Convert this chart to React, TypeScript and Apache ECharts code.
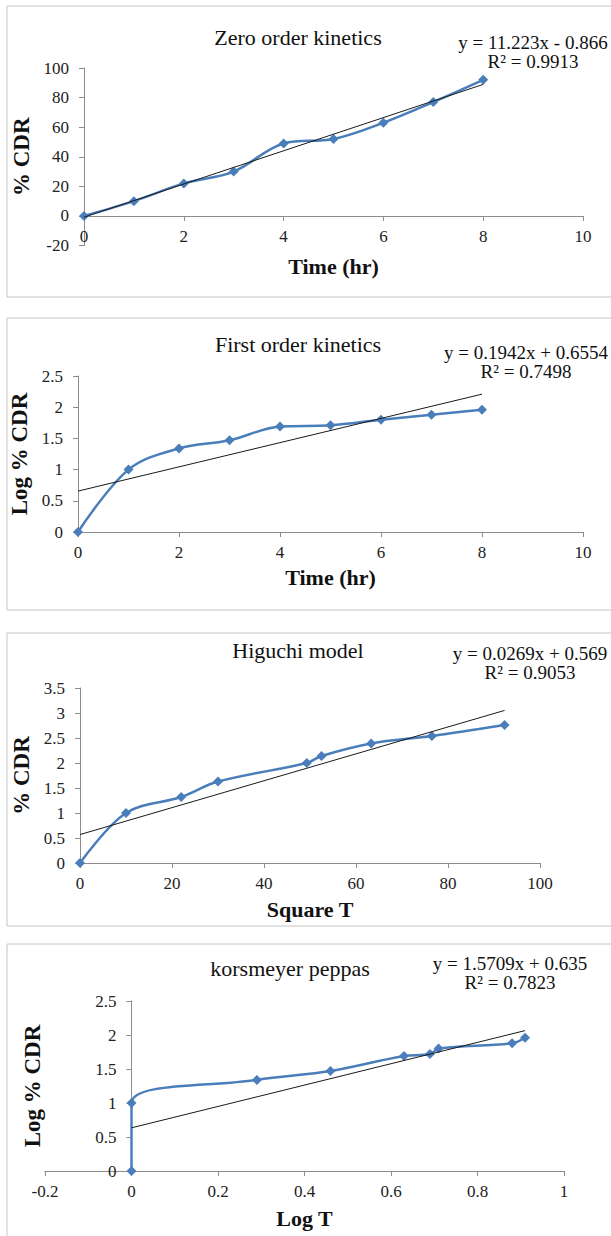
import React, { useEffect, useRef } from "react";
import * as echarts from "echarts";

// ---- data ----
const timeHr = [0, 1, 2, 3, 4, 5, 6, 7, 8];
const zeroCDR = [0, 10, 22, 30, 49, 52, 63, 77, 92];
const firstLogCDR = [0, 1, 1.34, 1.47, 1.69, 1.71, 1.8, 1.88, 1.96];
const higuchiX = [0, 10, 22, 30, 49.3, 52.5, 63.3, 76.5, 92.3];
const higuchiY = [0, 1, 1.32, 1.63, 2.0, 2.14, 2.39, 2.54, 2.76];
const peppasLogT = [0, 0, 0.29, 0.46, 0.63, 0.69, 0.71, 0.88, 0.91];
const peppasLogCDR = [0, 1, 1.34, 1.47, 1.69, 1.72, 1.8, 1.88, 1.96];

const titles = ["Zero order kinetics", "First order kinetics", "Higuchi model", "korsmeyer peppas"];
const xNames = ["Time (hr)", "Time (hr)", "Square T", "Log T"];
const yNames = ["% CDR", "Log % CDR", "% CDR", "Log % CDR"];
const slopes = [11.223, 0.1942, 0.0269, 1.5709];
const intercepts = [-0.866, 0.6554, 0.569, 0.635];
const equations = ["y = 11.223x - 0.866", "y = 0.1942x + 0.6554", "y = 0.0269x + 0.569", "y = 1.5709x + 0.635"];
const rSquared = ["R² = 0.9913", "R² = 0.7498", "R² = 0.9053", "R² = 0.7823"];
const xMin = [0, 0, 0, -0.2];
const xMax = [10, 10, 100, 1];
const xStep = [2, 2, 20, 0.2];
const yMin = [-20, 0, 0, 0];
const yMax = [100, 2.5, 3.5, 2.5];
const yStep = [20, 0.5, 0.5, 0.5];

const xs = [timeHr, timeHr, higuchiX, peppasLogT];
const ys = [zeroCDR, firstLogCDR, higuchiY, peppasLogCDR];

const FONT = "'Liberation Serif', 'Times New Roman', serif";
const BLUE = "#4A7EBB";
const AXIS = "#8c8c8c";

// layout
const grids = [
  { left: 84, top: 68, width: 499, height: 177.5 },
  { left: 78, top: 376, width: 505, height: 156 },
  { left: 80, top: 688, width: 460, height: 175 },
  { left: 45, top: 1001, width: 519, height: 170 },
];
const boxes = [
  { y: 6, h: 291 },
  { y: 318, h: 292 },
  { y: 633, h: 293 },
  { y: 944, h: 300 },
];
const titlePos = [
  { x: 298, y: 37 },
  { x: 298, y: 344 },
  { x: 298, y: 650 },
  { x: 290, y: 968 },
];
const eqPos = [
  { x: 533, y: 52 },
  { x: 526, y: 362 },
  { x: 530, y: 663 },
  { x: 510, y: 973 },
];
const xNameGap = [40, 34, 35, 36];
const yNameGap = [49, 45, 45, 88];

export default function App() {
  const ref = useRef<HTMLDivElement>(null);
  useEffect(() => {
    if (!ref.current) return;
    const chart = echarts.init(ref.current, null, { renderer: "svg" });

    const axisCommon = {
      type: "value" as const,
      axisLine: { show: true, onZero: false, lineStyle: { color: AXIS, width: 1 } },
      axisTick: { show: true, inside: false, length: 5, lineStyle: { color: AXIS } },
      splitLine: { show: false },
      axisLabel: { fontSize: 17, color: "#222", fontFamily: FONT },
      nameLocation: "middle" as const,
      nameTextStyle: { fontSize: 22, fontWeight: "bold" as const, color: "#111", fontFamily: FONT },
    };

    const xAxis = titles.map((_, i) => {
      const g = grids[i];
      // the x axis crosses the y axis at y = 0
      const off = yMin[i] < 0 ? -(g.height * (0 - yMin[i])) / (yMax[i] - yMin[i]) : 0;
      return {
        ...axisCommon,
        gridIndex: i,
        position: "bottom" as const,
        offset: off,
        min: xMin[i],
        max: xMax[i],
        interval: xStep[i],
        name: xNames[i],
        nameGap: xNameGap[i],
        axisLabel: { ...axisCommon.axisLabel, margin: 12 },
      };
    });
    const yAxis = titles.map((_, i) => {
      const g = grids[i];
      // the y axis crosses the x axis at x = 0
      const off = xMin[i] < 0 ? -(g.width * (0 - xMin[i])) / (xMax[i] - xMin[i]) : 0;
      return {
        ...axisCommon,
        gridIndex: i,
        position: "left" as const,
        offset: off,
        min: yMin[i],
        max: yMax[i],
        interval: yStep[i],
        name: yNames[i],
        nameGap: yNameGap[i],
        nameTextStyle: { ...axisCommon.nameTextStyle, fontSize: 23 },
        axisLabel: { ...axisCommon.axisLabel, margin: 15 },
      };
    });

    const series: any[] = [];
    titles.forEach((_, i) => {
      series.push({
        type: "line",
        xAxisIndex: i,
        yAxisIndex: i,
        data: xs[i].map((x, k) => [x, ys[i][k]]),
        smooth: 0.35,
        symbol: "diamond",
        symbolSize: 10,
        lineStyle: { color: BLUE, width: 2.5 },
        itemStyle: { color: BLUE },
        z: 2,
      });
      const xEnd = xs[i][xs[i].length - 1];
      series.push({
        type: "line",
        xAxisIndex: i,
        yAxisIndex: i,
        data: [
          [0, intercepts[i]],
          [xEnd, slopes[i] * xEnd + intercepts[i]],
        ],
        symbol: "none",
        lineStyle: { color: "#1a1a1a", width: 1 },
        z: 3,
      });
    });

    const graphic: any[] = [];
    boxes.forEach((b) => {
      graphic.push({
        type: "rect",
        shape: { x: 7, y: b.y, width: 620, height: b.h },
        style: { fill: "none", stroke: "#c4c4c4", lineWidth: 1 },
        z: 0,
      });
    });
    titles.forEach((t, i) => {
      graphic.push({
        type: "text",
        x: titlePos[i].x,
        y: titlePos[i].y,
        style: {
          text: t,
          font: `22px ${FONT}`,
          fill: "#111",
          textAlign: "center",
          textVerticalAlign: "middle",
        },
      });
      graphic.push({
        type: "text",
        x: eqPos[i].x,
        y: eqPos[i].y,
        style: {
          text: equations[i] + "\n" + rSquared[i],
          font: `19px ${FONT}`,
          fill: "#111",
          textAlign: "center",
          textVerticalAlign: "middle",
          lineHeight: 19,
        },
      });
    });

    chart.setOption({
      animation: false,
      backgroundColor: "#fff",
      grid: grids.map((g) => ({ ...g, outerBoundsMode: "none", containLabel: false })),
      xAxis,
      yAxis,
      series,
      graphic,
    });
    return () => chart.dispose();
  }, []);

  return (
    <div
      ref={ref}
      style={{ position: "absolute", left: 0, top: 0, width: 611, height: 1236, background: "#fff" }}
    />
  );
}
